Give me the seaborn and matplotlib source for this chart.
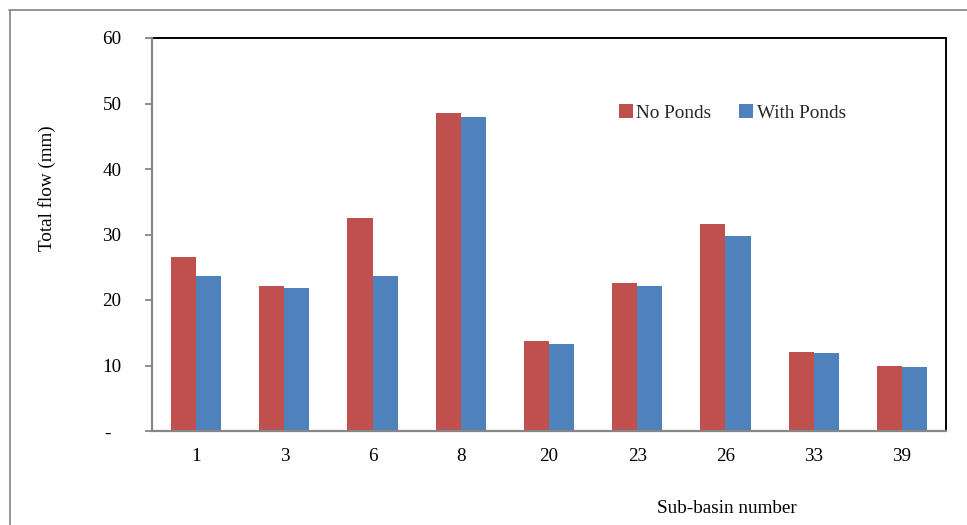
import matplotlib
matplotlib.use("Agg")
import matplotlib.pyplot as plt
from matplotlib.lines import Line2D
import pandas as pd
import seaborn as sns

# Sub-basins and total flow (mm) for the two scenarios
sub_basins = ["1", "3", "6", "8", "20", "23", "26", "33", "39"]
no_ponds = [26.5, 22.1, 32.5, 48.6, 13.8, 22.6, 31.6, 12.0, 10.0]
with_ponds = [23.6, 21.9, 23.6, 47.9, 13.3, 22.1, 29.7, 11.9, 9.8]
scenarios = ["No Ponds", "With Ponds"]
y_ticks = [0, 10, 20, 30, 40, 50, 60]
y_tick_labels = ["-  ", "10", "20", "30", "40", "50", "60"]

df = pd.DataFrame({
    "Sub-basin": sub_basins * 2,
    "Total flow": no_ponds + with_ponds,
    "Scenario": [scenarios[0]] * len(sub_basins) + [scenarios[1]] * len(sub_basins),
})

FS = 13.8

sns.set_theme(style="white")
plt.rcParams["font.family"] = ["Liberation Serif", "DejaVu Serif"]

fig = plt.figure(figsize=(9.67, 5.25), dpi=100)
ax = fig.add_axes([152 / 967, 1 - 431 / 525, (946 - 152) / 967, (431 - 38) / 525])

sns.barplot(
    data=df, x="Sub-basin", y="Total flow", hue="Scenario",
    order=sub_basins, hue_order=scenarios,
    palette=["#C0504D", "#4F81BD"], width=0.57, saturation=1,
    linewidth=0, ax=ax,
)

ax.set_ylim(0, 60)
ax.set_xlim(-0.5, len(sub_basins) - 0.5)
ax.set_yticks(y_ticks)
ax.set_yticklabels(y_tick_labels)

# Frame: black box with grey value/category axes
for side in ("top", "right"):
    ax.spines[side].set_color("black")
    ax.spines[side].set_linewidth(1.4)
for side in ("left", "bottom"):
    ax.spines[side].set_color("#868686")
    ax.spines[side].set_linewidth(1.6)
    ax.spines[side].set_zorder(5)

ax.tick_params(axis="y", which="major", left=True, length=5, width=1.3,
               color="#868686", pad=17, labelsize=FS, labelcolor="black")
ax.tick_params(axis="x", which="major", bottom=False, length=0, pad=12.5,
               labelsize=FS, labelcolor="black")

ax.set_xlabel("Sub-basin number", fontsize=FS, color="black")
ax.xaxis.set_label_coords(0.724, -0.175)
ax.set_ylabel("Total flow (mm)", fontsize=FS, color="black")
ax.yaxis.set_label_coords(-0.121, 0.618)

ax.legend(
    loc="center", bbox_to_anchor=(0.731, 0.809), ncol=2, frameon=False,
    fontsize=FS, handlelength=0.72, handleheight=0.72,
    handletextpad=0.2, columnspacing=1.45, borderpad=0,
)

# Outer chart border
fig.add_artist(Line2D([9 / 967, 1.0], [1 - 9.5 / 525, 1 - 9.5 / 525],
                      transform=fig.transFigure, color="#8c8c8c", linewidth=1.3))
fig.add_artist(Line2D([9.5 / 967, 9.5 / 967], [0.0, 1 - 9.5 / 525],
                      transform=fig.transFigure, color="#8c8c8c", linewidth=1.3))

fig.savefig("out.png", dpi=100, facecolor="white")
